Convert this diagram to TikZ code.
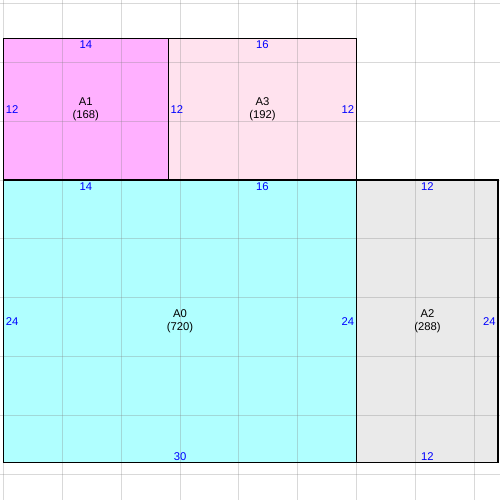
\documentclass[tikz,border=0pt]{standalone}
\usepackage{fontspec}
\setmainfont{Liberation Sans}
\definecolor{fillA0}{RGB}{176,255,255}
\definecolor{fillA1}{RGB}{255,176,255}
\definecolor{fillA2}{RGB}{234,234,234}
\definecolor{fillA3}{RGB}{255,226,238}
\begin{document}
\begin{tikzpicture}[x=0.25cm,y=-0.25cm,
    every node/.style={font=\fontsize{6.8}{7.6}\selectfont,inner sep=1.3pt},
    dim/.style={text=blue},
    room/.style={draw=black,line width=0.8pt},
    gridline/.style={gray,opacity=0.3,line width=0.6pt}]
  \useasboundingbox (-0.28,-0.28) rectangle (42.16,42.16);
  % room fills
  \fill[fillA1] (0,3) rectangle (14,15);
  \fill[fillA3] (14,3) rectangle (30,15);
  \fill[fillA0] (0,15) rectangle (30,39);
  \fill[fillA2] (30,15) rectangle (42,39);
  % grid
  \foreach \g in {0,5,...,40} {
    \draw[gridline] (\g,-0.28) -- (\g,42.16);
    \draw[gridline] (-0.28,\g) -- (42.16,\g);
  }
  % room outlines
  \draw[room] (0,3) rectangle (14,15);
  \draw[room] (14,3) rectangle (30,15);
  \draw[room] (0,15) rectangle (30,39);
  \draw[room] (30,15) rectangle (42,39);
  % A1
  \node[dim,below] (a1top) at (7,3) {14};
  \node[dim,right] (a1left) at (0,9) {12};
  \node[align=center] (a1) at (7,9) {A1\\(168)};
  % A3
  \node[dim,below] (a3top) at (22,3) {16};
  \node[dim,right] (a3left) at (14,9) {12};
  \node[dim,left] (a3right) at (30,9) {12};
  \node[align=center] (a3) at (22,9) {A3\\(192)};
  % A0
  \node[dim,below] (a0topa) at (7,15) {14};
  \node[dim,below] (a0topb) at (22,15) {16};
  \node[dim,right] (a0left) at (0,27) {24};
  \node[dim,left] (a0right) at (30,27) {24};
  \node[dim,above] (a0bottom) at (15,39) {30};
  \node[align=center] (a0) at (15,27) {A0\\(720)};
  % A2
  \node[dim,below] (a2top) at (36,15) {12};
  \node[dim,above] (a2bottom) at (36,39) {12};
  \node[dim,left] (a2right) at (42,27) {24};
  \node[align=center] (a2) at (36,27) {A2\\(288)};
\end{tikzpicture}
\end{document}
